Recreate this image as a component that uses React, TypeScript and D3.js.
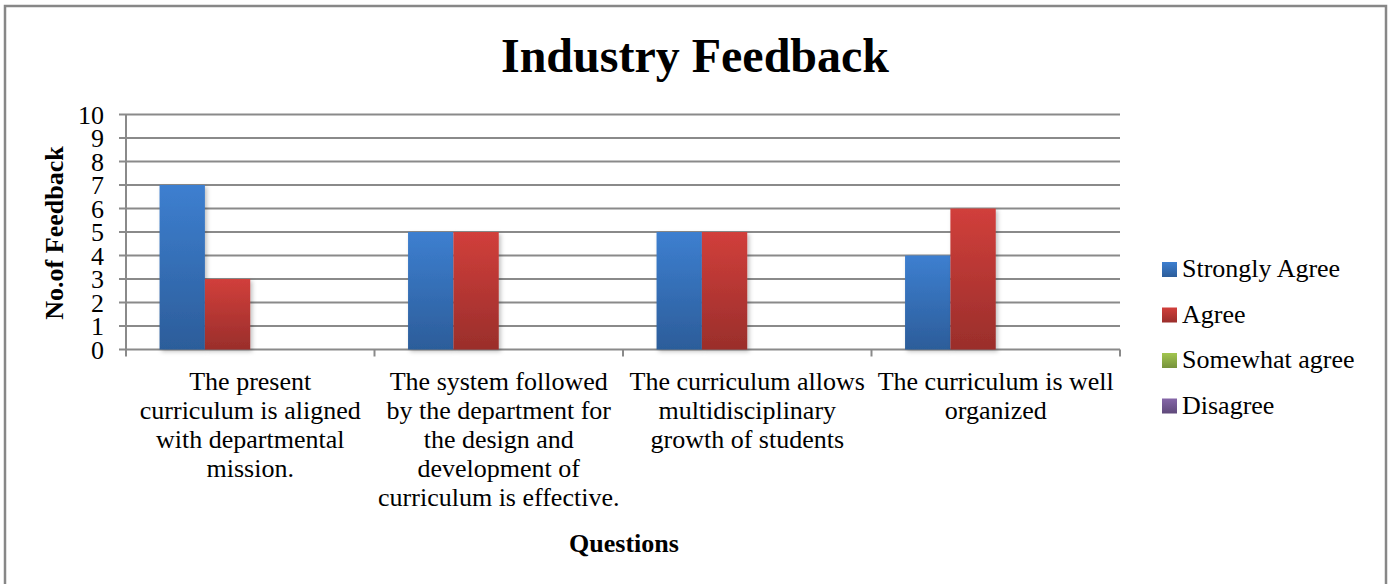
import React, { useEffect, useRef } from "react"
import * as d3 from "d3"

// data
const categories = [
  "The present curriculum is aligned with departmental mission.",
  "The system followed by the department for the design and development of curriculum is effective.",
  "The curriculum allows multidisciplinary growth of students",
  "The curriculum is well organized",
]
const categoryLines = [
  ["The present", "curriculum is aligned", "with departmental", "mission."],
  ["The system followed", "by the department for", "the design and", "development of", "curriculum is effective."],
  ["The curriculum allows", "multidisciplinary", "growth of students"],
  ["The curriculum is well", "organized"],
]
const seriesNames = ["Strongly Agree", "Agree", "Somewhat agree", "Disagree"]
const stronglyAgree = [7, 5, 5, 4]
const agree = [3, 5, 5, 6]
const somewhatAgree = [0, 0, 0, 0]
const disagree = [0, 0, 0, 0]
const yTicks = [0, 1, 2, 3, 4, 5, 6, 7, 8, 9, 10]

const seriesColors = [
  ["#3d7fd0", "#2c5d9a"],
  ["#d13f3b", "#9a2e2b"],
  ["#a2c64f", "#76923c"],
  ["#8566a8", "#5f497a"],
]

const W = 1392
const H = 584
const FONT = "Liberation Serif, Times New Roman, serif"

const drawChart = (wrapper: HTMLDivElement) => {
  d3.select(wrapper).selectAll("*").remove()
  const values = [stronglyAgree, agree, somewhatAgree, disagree]

  const svg = d3
    .select(wrapper)
    .append("svg")
    .attr("width", W)
    .attr("height", H)
    .attr("font-family", FONT)
    .style("position", "absolute")
    .style("left", "0px")
    .style("top", "0px")

  const defs = svg.append("defs")
  seriesColors.forEach((c, i) => {
    const g = defs
      .append("linearGradient")
      .attr("id", "grad" + i)
      .attr("x1", 0)
      .attr("y1", 0)
      .attr("x2", 0)
      .attr("y2", 1)
    g.append("stop").attr("offset", "0%").attr("stop-color", c[0])
    g.append("stop").attr("offset", "100%").attr("stop-color", c[1])
  })
  defs
    .append("filter")
    .attr("id", "shadow")
    .attr("x", "-20%")
    .attr("y", "-5%")
    .attr("width", "150%")
    .attr("height", "120%")
    .append("feDropShadow")
    .attr("dx", 2)
    .attr("dy", 2)
    .attr("stdDeviation", 2)
    .attr("flood-color", "#000")
    .attr("flood-opacity", 0.25)

  svg.append("rect").attr("width", W).attr("height", H).attr("fill", "#fff")
  // outer border (bottom edge runs off the picture)
  svg
    .append("path")
    .attr("d", "M5,590 L5,6 L1386,6 L1386,590")
    .attr("fill", "none")
    .attr("stroke", "#878787")
    .attr("stroke-width", 2.5)

  const x0 = d3.scaleBand().domain(categories).range([126, 1120])
  const x1 = d3
    .scaleBand()
    .domain(seriesNames)
    .range([0, x0.bandwidth()])
    .paddingOuter(0.74)
  const y = d3.scaleLinear().domain([0, 10]).range([349.5, 114.5])

  // gridlines
  svg
    .append("g")
    .selectAll("line")
    .data(yTicks)
    .enter()
    .append("line")
    .attr("x1", 119)
    .attr("x2", 1120)
    .attr("y1", d => y(d))
    .attr("y2", d => y(d))
    .attr("stroke", "#8a8a8a")
    .attr("stroke-width", 2)

  // y axis line
  svg
    .append("line")
    .attr("x1", 126)
    .attr("x2", 126)
    .attr("y1", y(10))
    .attr("y2", y(0) + 7)
    .attr("stroke", "#8a8a8a")
    .attr("stroke-width", 2)

  // category ticks
  svg
    .append("g")
    .selectAll("line")
    .data(categories)
    .enter()
    .append("line")
    .attr("x1", d => x0(d)! + x0.bandwidth())
    .attr("x2", d => x0(d)! + x0.bandwidth())
    .attr("y1", y(0))
    .attr("y2", y(0) + 7)
    .attr("stroke", "#8a8a8a")
    .attr("stroke-width", 2)

  // y tick labels
  svg
    .append("g")
    .selectAll("text")
    .data(yTicks)
    .enter()
    .append("text")
    .attr("x", 104)
    .attr("y", d => y(d) + 9)
    .attr("text-anchor", "end")
    .attr("font-size", 26)
    .text(d => d)

  // bars
  const groups = svg
    .append("g")
    .selectAll("g")
    .data(categories)
    .enter()
    .append("g")
    .attr("transform", d => "translate(" + x0(d) + ",0)")

  groups
    .selectAll("rect")
    .data((d, ci) => seriesNames.map((s, si) => ({ s, si, v: values[si][ci] })))
    .enter()
    .filter(d => d.v > 0)
    .append("rect")
    .attr("x", d => x1(d.s)!)
    .attr("width", x1.bandwidth())
    .attr("y", d => y(d.v))
    .attr("height", d => y(0) - y(d.v))
    .attr("fill", d => "url(#grad" + d.si + ")")
    .attr("filter", "url(#shadow)")

  // category labels
  groups.each(function (d, ci) {
    const t = d3
      .select(this)
      .append("text")
      .attr("text-anchor", "middle")
      .attr("font-size", 26)
    categoryLines[ci].forEach((line, li) => {
      t.append("tspan")
        .attr("x", x0.bandwidth() / 2)
        .attr("y", 390 + li * 29)
        .text(line)
    })
  })

  // title
  svg
    .append("text")
    .attr("x", 695)
    .attr("y", 72)
    .attr("text-anchor", "middle")
    .attr("font-size", 48)
    .attr("font-weight", "bold")
    .text("Industry Feedback")

  // axis titles
  svg
    .append("text")
    .attr("transform", "translate(63,233) rotate(-90)")
    .attr("text-anchor", "middle")
    .attr("font-size", 26)
    .attr("font-weight", "bold")
    .text("No.of Feedback")

  svg
    .append("text")
    .attr("x", 624)
    .attr("y", 552)
    .attr("text-anchor", "middle")
    .attr("font-size", 26)
    .attr("font-weight", "bold")
    .text("Questions")

  // legend
  const legend = svg
    .append("g")
    .selectAll("g")
    .data(seriesNames)
    .enter()
    .append("g")
    .attr("transform", (d, i) => "translate(1162," + (262 + i * 45.5) + ")")
  legend
    .append("rect")
    .attr("width", 15)
    .attr("height", 15)
    .attr("fill", (d, i) => "url(#grad" + i + ")")
  legend
    .append("text")
    .attr("x", 20)
    .attr("y", 15)
    .attr("font-size", 26)
    .text(d => d)
}

export default function App() {
  const chart = useRef<HTMLDivElement>(null)
  useEffect(() => {
    if (chart.current) drawChart(chart.current)
  }, [])

  return <div ref={chart} style={{ width: W, height: H }}></div>
}
